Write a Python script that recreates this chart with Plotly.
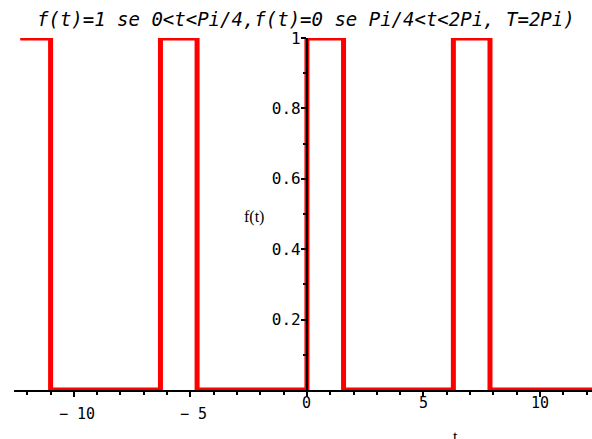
import plotly.graph_objects as go

# step points of the periodic pulse signal f(t)
t_points = [-12.3, -10.996, -10.996, -6.283, -6.283, -4.712, -4.712, 0.0, 0.0,
            1.571, 1.571, 6.283, 6.283, 7.854, 7.854, 12.566]
f_points = [1, 1, 0, 0, 1, 1, 0, 0, 1, 1, 0, 0, 1, 1, 0, 0]

xtick_vals = [-10, -5, 0, 5, 10]
xtick_text = ["\u2212 10", "\u2212 5", "0", "5", "10"]
ytick_vals = [0.2, 0.4, 0.6, 0.8, 1.0]
ytick_text = ["0.2", "0.4", "0.6", "0.8", "1"]

title_text = "f(t)=1 se 0<t<Pi/4,f(t)=0 se Pi/4<t<2Pi, T=2Pi)"

X_MIN, X_MAX = -12.566, 12.23
MONO = "DejaVu Sans Mono"

fig = go.Figure()
fig.add_trace(go.Scatter(
    x=t_points, y=f_points, mode="lines",
    line=dict(color="#ff0000", width=5),
    cliponaxis=False, hoverinfo="skip", showlegend=False,
))

y_pos = (0 - X_MIN) / (X_MAX - X_MIN)

fig.update_layout(
    width=592, height=439,
    margin=dict(l=14, r=0, t=38, b=49),
    paper_bgcolor="white", plot_bgcolor="white",
    font=dict(family=MONO, size=15, color="black"),
    xaxis=dict(
        range=[X_MIN, X_MAX], showgrid=False, zeroline=False,
        showline=True, linecolor="black", linewidth=2,
        ticks="outside", ticklen=5, tickwidth=2, tickcolor="black",
        tick0=0, dtick=5, showticklabels=False,
        minor=dict(ticks="outside", dtick=1, ticklen=3, tickwidth=2, tickcolor="black"),
    ),
    yaxis=dict(
        range=[0, 1], showgrid=False, zeroline=False,
        anchor="free", position=y_pos,
        showline=True, linecolor="black", linewidth=2,
        ticks="outside", ticklen=5, tickwidth=2, tickcolor="black",
        tickvals=ytick_vals, ticktext=ytick_text,
        tickfont=dict(family=MONO, size=16),
        ticklabelstandoff=-3,
        minor=dict(ticks="outside", tickvals=[0.1, 0.3, 0.5, 0.7, 0.9],
                   ticklen=3, tickwidth=2, tickcolor="black"),
    ),
)

annotations = []
for v, txt in zip(xtick_vals, xtick_text):
    neg = v < 0
    annotations.append(dict(
        x=v, y=0, xref="x", yref="paper", text=txt, showarrow=False,
        xanchor="center", yanchor="middle",
        xshift=3 if neg else 0, yshift=-24 if neg else -13,
        font=dict(family=MONO, size=15, color="black"),
    ))

annotations.append(dict(
    x=(254 - 14) / 578, y=(390 - 217) / 352, xref="paper", yref="paper",
    text="f(t)", showarrow=False, xanchor="center", yanchor="middle",
    font=dict(family="Liberation Serif", size=16, color="black"),
))
annotations.append(dict(
    x=(455 - 14) / 578, y=0, xref="paper", yref="paper",
    text="t", showarrow=False, xanchor="center", yanchor="middle",
    yshift=-46, font=dict(family="Liberation Serif", size=16, color="black"),
))
annotations.append(dict(
    x=(306 - 14) / 578, y=1, xref="paper", yref="paper",
    text=title_text, showarrow=False, xanchor="center", yanchor="middle",
    yshift=19, font=dict(family=MONO, size=19, color="black", style="italic"),
))
fig.update_layout(annotations=annotations)

fig.write_html(
    "out.html",
    config={"displayModeBar": False},
    post_script="document.body.style.margin='0';document.body.style.overflow='hidden';",
)
